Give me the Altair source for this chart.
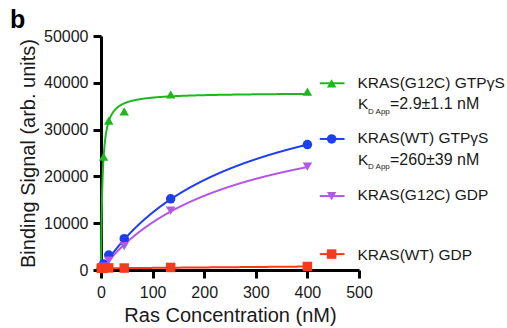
import altair as alt
import pandas as pd

# ---- data ----
conc = [0.55, 1.6, 5, 15, 45, 135, 400]
g12c_gtp = [None, None, 24200, 31900, 33900, 37500, 38100]
wt_gtp = [400, 700, 1300, 3200, 6700, 15200, 26800]
g12c_gdp = [150, 300, 700, 2000, 5100, 12700, 22100]
wt_gdp = [350, 380, 420, 450, 420, 550, 750]

series = ["KRAS(G12C) GTPγS", "KRAS(WT) GTPγS", "KRAS(G12C) GDP", "KRAS(WT) GDP"]
colors = ["#1db81d", "#1e3ef2", "#b457e6", "#f53b1c"]
shapes = ["triangle-up", "circle", "triangle-down", "square"]

# one-site binding fits: base + Bmax*x/(Kd+x) + slope*x
fit_bmax = [37900, 44200, 35900, 0]
fit_kd = [2.9, 260, 253, 1]
fit_base = [0, 0, 0, 360]
fit_slope = [0, 0, 0, 0.95]

kd_labels = ["=2.9±1.1 nM", "=260±39 nM", None, None]

# legend layout (in data units of the axes)
leg_marker_y = [39900, 28000, 15800, 3400]
leg_text_y = [38800, 27100, 14950, 2150]
leg_kd_y = [34400, 22450, None, None]

# ---- tables ----
pts = []
for s, vals in zip(series, [g12c_gtp, wt_gtp, g12c_gdp, wt_gdp]):
    for c, v in zip(conc, vals):
        if v is not None:
            pts.append({"s": s, "x": c, "y": v})
pts = pd.DataFrame(pts)

leg = pd.DataFrame({
    "s": series,
    "ym": leg_marker_y,
    "yt": leg_text_y,
    "x1": [424] * 4,
    "x2": [472] * 4,
    "xm": [447] * 4,
    "xt": [497] * 4,
})
kd = pd.DataFrame({
    "s": series[:2],
    "yt": leg_kd_y[:2],
    "lab": kd_labels[:2],
})

FONT = "Liberation Sans"
xs = alt.Scale(domain=[0, 500], nice=False)
ys = alt.Scale(domain=[0, 50000], nice=False)
cs = alt.Scale(domain=series, range=colors)
ss = alt.Scale(domain=series, range=shapes)

# fitted curves
calc = {}
for i in range(4):
    calc[f"f{i}"] = (f"{fit_base[i]} + {fit_bmax[i]}*datum.x/({fit_kd[i]}+datum.x)"
                     f" + {fit_slope[i]}*datum.x")
sexpr = " : ".join(
    [f"datum.key=='f{i}' ? '{series[i]}'" for i in range(3)] + [f"'{series[3]}'"]
)
curves = (
    alt.Chart(alt.sequence(0, 400.25, 0.25, as_="x"))
    .transform_calculate(**calc)
    .transform_fold([f"f{i}" for i in range(4)], as_=["key", "val"])
    .transform_calculate(s=sexpr)
    .mark_line(strokeWidth=2, clip=False)
    .encode(
        x=alt.X("x:Q", scale=xs, title="Ras Concentration (nM)",
                axis=alt.Axis(values=[0, 100, 200, 300, 400, 500], format="d")),
        y=alt.Y("val:Q", scale=ys, title="Binding Signal (arb. units)",
                axis=alt.Axis(values=[0, 10000, 20000, 30000, 40000, 50000], format="d")),
        color=alt.Color("s:N", scale=cs, legend=None),
        detail="s:N",
        order=alt.Order("x:Q"),
    )
)

points = (
    alt.Chart(pts)
    .mark_point(filled=True, size=90, opacity=1, clip=False)
    .encode(
        x=alt.X("x:Q", scale=xs),
        y=alt.Y("y:Q", scale=ys),
        color=alt.Color("s:N", scale=cs, legend=None),
        shape=alt.Shape("s:N", scale=ss, legend=None),
    )
)

leg_lines = alt.Chart(leg).mark_rule(strokeWidth=2).encode(
    x=alt.X("x1:Q", scale=xs), x2="x2:Q",
    y=alt.Y("ym:Q", scale=ys),
    color=alt.Color("s:N", scale=cs, legend=None),
)
leg_pts = alt.Chart(leg).mark_point(filled=True, size=90, opacity=1).encode(
    x=alt.X("xm:Q", scale=xs), y=alt.Y("ym:Q", scale=ys),
    color=alt.Color("s:N", scale=cs, legend=None),
    shape=alt.Shape("s:N", scale=ss, legend=None),
)
leg_txt = alt.Chart(leg).mark_text(
    align="left", baseline="alphabetic", font=FONT, fontSize=15.5, color="#1a1a1a"
).encode(x=alt.X("xt:Q", scale=xs), y=alt.Y("yt:Q", scale=ys), text="s:N")

kd_k = alt.Chart(kd).mark_text(
    align="left", baseline="alphabetic", font=FONT, fontSize=15.5, color="#1a1a1a"
).encode(x=alt.value(257), y=alt.Y("yt:Q", scale=ys), text=alt.value("K"))
kd_sub = alt.Chart(kd).mark_text(
    align="left", baseline="alphabetic", font=FONT, fontSize=8, dy=4.5, color="#1a1a1a"
).encode(x=alt.value(267), y=alt.Y("yt:Q", scale=ys), text=alt.value("D App"))
kd_val = alt.Chart(kd).mark_text(
    align="left", baseline="alphabetic", font=FONT, fontSize=16, color="#1a1a1a"
).encode(x=alt.value(289), y=alt.Y("yt:Q", scale=ys), text="lab:N")

panel = alt.Chart(pd.DataFrame({"t": ["b"]})).mark_text(
    align="left", baseline="alphabetic", font=FONT, fontSize=25, fontWeight="bold",
    color="black"
).encode(x=alt.value(-91), y=alt.value(-8), text="t:N")

chart = (
    alt.layer(curves, points, leg_lines, leg_pts, leg_txt, kd_k, kd_sub, kd_val, panel)
    .properties(
        width=258, height=234,
        autosize=alt.AutoSizeParams(type="none"),
        padding={"left": 101, "top": 36, "right": 148, "bottom": 58},
        background="white",
    )
    .configure_view(stroke=None)
    .configure_axis(
        grid=False,
        domainColor="black", domainWidth=3,
        tickColor="black", tickWidth=3, tickSize=8,
        labelFont=FONT, labelFontSize=16, labelColor="#1a1a1a", labelPadding=4,
        titleFont=FONT, titleFontSize=20, titleFontWeight="normal", titleColor="#1a1a1a",
    )
    .configure_axisY(titlePadding=5, labelPadding=5)
    .configure_axisX(titlePadding=5, labelPadding=6, labelFlush=False)
)

chart.save("out.html", embed_options={"renderer": "svg", "actions": False})
